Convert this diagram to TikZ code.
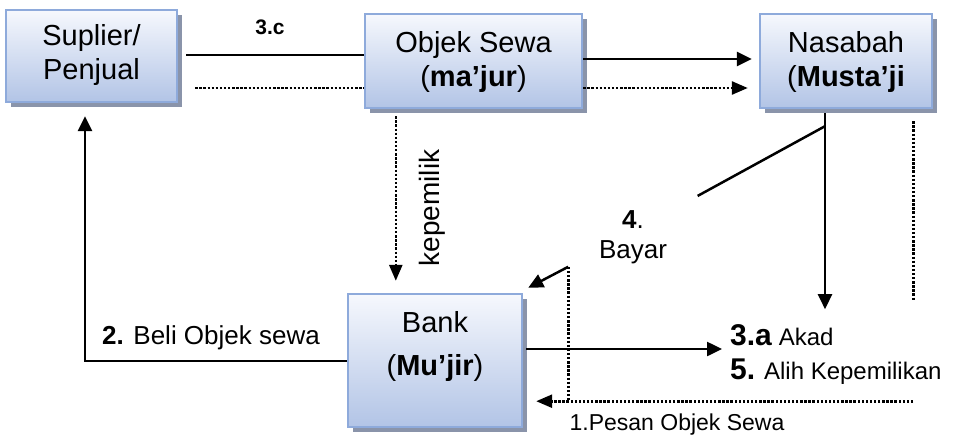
\documentclass[tikz,border=0pt]{standalone}
\usepackage{fontspec}
\setmainfont{Liberation Sans}
\usetikzlibrary{arrows.meta,shadows,calc}
\definecolor{boxborder}{RGB}{142,170,219}
\definecolor{boxtop}{RGB}{246,248,253}
\definecolor{boxbot}{RGB}{178,196,230}
\definecolor{boxshadow}{RGB}{138,148,170}
\tikzset{
  box/.style={draw=boxborder, line width=2.4pt, top color=boxtop, bottom color=boxbot,
    drop shadow={shadow xshift=4.5pt, shadow yshift=-4.5pt, fill=boxshadow, opacity=1},
    inner sep=0pt, align=center},
  boxtext/.style={align=center, inner sep=0pt, font=\fontsize{29}{34}\selectfont},
  ln/.style={line width=2.5pt},
  arr/.style={line width=2.5pt, -{Triangle[length=15pt,width=14pt]}},
  dotln/.style={line width=2.6pt, dash pattern=on 2.4pt off 1.7pt},
  dotarr/.style={dotln, -{Triangle[length=16pt,width=13pt]}},
  lbl/.style={inner sep=0pt, align=center}
}
\begin{document}
\begin{tikzpicture}[x=1pt,y=-1pt]
\useasboundingbox (0,0) rectangle (956,434);
% boxes
\node[box, minimum width=171pt, minimum height=92pt] (sup) at (91.5,56) {};
\node[boxtext] (suptext) at (91.5,55) {Suplier/\\Penjual};
\node[box, minimum width=217pt, minimum height=94pt] (obj) at (473.5,61) {};
\node[boxtext] (objtext) at (473.5,61.5) {Objek Sewa\\(\textbf{ma’jur})};
\node[box, minimum width=172pt, minimum height=94pt] (nas) at (846,61) {};
\node[boxtext] (nastext) at (846,61.5) {Nasabah\\(\textbf{Musta’ji}};
\node[box, minimum width=174pt, minimum height=133pt] (bank) at (435,360.5) {};
\node[boxtext] (banktext) at (435,346.5) {Bank\\[9pt](\textbf{Mu’jir})};
% labels
\node[lbl, font=\fontsize{21}{24}\selectfont\bfseries] (l3c) at (270,27) {3.c};
\node[lbl, rotate=90, font=\fontsize{28}{32}\selectfont] (lkep) at (432,208) {kepemilik};
\node[lbl, font=\fontsize{26}{30}\selectfont] (lbeli) at (211,338) {\textbf{2.} Beli Objek sewa};
\node[lbl, font=\fontsize{26}{30}\selectfont] (lbayar) at (633,237) {\textbf{4}.\\Bayar};
\node[lbl, anchor=west, align=left, font=\fontsize{24}{34}\selectfont] (akad) at (730,355)
  {{\fontsize{30}{34}\selectfont\textbf{3.a}} Akad\\{\fontsize{30}{34}\selectfont\textbf{5.}} Alih Kepemilikan};
\node[lbl, font=\fontsize{23}{26}\selectfont] (lpesan) at (677,425) {1.Pesan Objek Sewa};
% connectors
\draw[ln] ($(sup.east)+(8,-1)$) coordinate (a) -- (a -| obj.west);
\draw[dotln] ($(sup.east)+(17,32)$) coordinate (b) -- (b -| obj.west);
\draw[arr] ($(obj.east)+(0,-2)$) coordinate (c) -- ($(c -| nas.west)+(-7,0)$);
\draw[dotarr] ($(obj.east)+(0,27)$) coordinate (d) -- ($(d -| nas.west)+(-11,0)$);
\draw[dotarr] ($(obj.south west)+(32,7)$) coordinate (e) -- ($(e |- bank.north)+(0,-12)$);
\draw[arr] ($(bank.west)+(0,0.5)$) -| ($(sup.south)+(-6.5,13)$);
\draw[arr] ($(bank.east)+(3,-11.5)$) coordinate (f) -- ($(f -| akad.west)+(-8,0)$);
\draw[arr] ($(nas.south)+(-21,4)$) coordinate (g) -- ($(g)+(0,196)$);
\draw[dotln] ($(nas.south east)+(-20,12)$) coordinate (h) -- ($(h)+(0,180)$);
\draw[dotarr] ($(h)+(0,280)$) coordinate (i) -- ($(i -| bank.east)+(13,0)$);
\coordinate (j) at ($(bank.north east)+(45,-26)$);
\draw[dotln] (j) -- (j |- i);
\coordinate (k) at ($(g)+(0,13)$);
\draw[ln] (k) -- ($(k)!0.496!(j)$);
\draw[arr] (j) -- ($(bank.north east)+(5,-5)$);
\end{tikzpicture}
\end{document}
